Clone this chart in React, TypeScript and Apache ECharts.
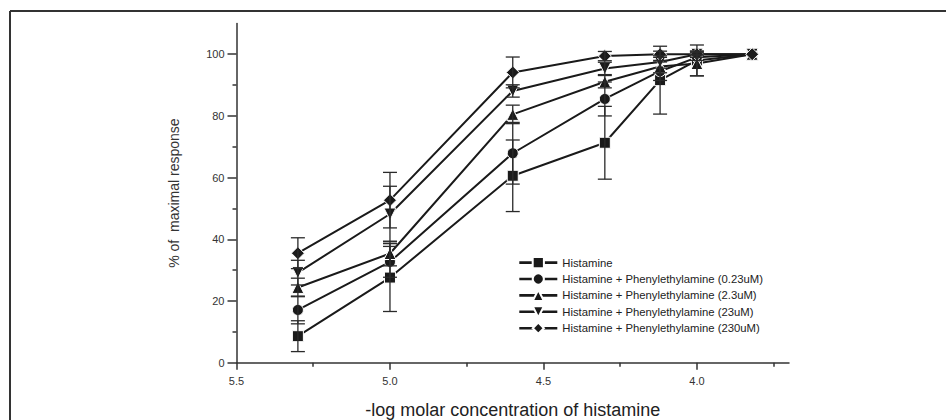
import React, { useEffect, useRef } from "react";
import * as echarts from "echarts";

// -log molar concentration of histamine (x positions)
const xValues = [5.3, 5.0, 4.6, 4.3, 4.12, 4.0, 3.82];

const seriesNames = [
  "Histamine",
  "Histamine + Phenylethylamine (0.23uM)",
  "Histamine + Phenylethylamine (2.3uM)",
  "Histamine + Phenylethylamine (23uM)",
  "Histamine + Phenylethylamine (230uM)",
];

const histamine = [8.6, 27.6, 60.6, 71.3, 91.6, 98.0, 100];
const histamineErr = [5, 11, 11.6, 11.8, 11, 5, 0];
const phe023 = [17.1, 32.7, 67.9, 85.5, 94.5, 99.0, 100];
const phe023Err = [4.5, 5, 10, 5.5, 3, 1, 0];
const phe23 = [24.4, 35.4, 80.5, 91.1, 96.0, 97.0, 100];
const phe23Err = [3, 4, 3, 2, 2, 4, 0];
const phe230 = [29.2, 48.2, 88.1, 95.4, 97.5, 100, 100];
const phe230Err = [4, 9, 2, 2, 2, 1, 0];
const phe2300 = [35.5, 52.7, 94.1, 99.4, 100, 100, 100];
const phe2300Err = [5, 9, 5, 1.5, 1, 0.5, 0];

const xMajorTicks = [5.5, 5.0, 4.5, 4.0];
const xMinorTicks = [5.25, 4.75, 4.25, 3.75];
const yMajorTicks = [0, 20, 40, 60, 80, 100];
const yMinorTicks = [10, 30, 50, 70, 90];

const symbols = ["rect", "circle", "triangle", "triangle", "diamond"];
const symbolRotates = [0, 0, 0, 180, 0];
const symbolSizes = [11, 11, 12, 12, 13];

const FONT = "'Liberation Sans', Arial, sans-serif";
const INK = "#1a1a1a";

export default function App() {
  const ref = useRef<HTMLDivElement>(null);

  useEffect(() => {
    if (!ref.current) return;
    const chart = echarts.init(ref.current, undefined, { renderer: "svg" });

    const values = [histamine, phe023, phe23, phe230, phe2300];
    const errs = [histamineErr, phe023Err, phe23Err, phe230Err, phe2300Err];

    const lineSeries: any[] = values.map((vals, i) => ({
      type: "line",
      name: seriesNames[i],
      xAxisIndex: 0,
      yAxisIndex: 0,
      data: xValues.map((x, j) => [x, vals[j]]),
      symbol: symbols[i],
      symbolRotate: symbolRotates[i],
      symbolSize: symbolSizes[i],
      showAllSymbol: true,
      lineStyle: { color: INK, width: 2 },
      itemStyle: { color: INK, borderColor: "#fff", borderWidth: 1 },
      z: 3,
    }));

    const errSeries: any[] = values.map((vals, i) => ({
      type: "custom",
      xAxisIndex: 0,
      yAxisIndex: 0,
      z: 4,
      encode: { x: 0, y: [1, 2] },
      data: xValues
        .map((x, j) => [x, vals[j] - errs[i][j], vals[j] + errs[i][j]])
        .filter((d) => d[2] - d[1] > 0),
      renderItem: (params: any, api: any) => {
        const x = api.value(0);
        const lo = api.coord([x, api.value(1)]);
        const hi = api.coord([x, api.value(2)]);
        const hw = 7;
        const style = { stroke: "#2a2a2a", lineWidth: 1.3 };
        return {
          type: "group",
          children: [
            { type: "line", shape: { x1: lo[0], y1: lo[1], x2: hi[0], y2: hi[1] }, style },
            { type: "line", shape: { x1: hi[0] - hw, y1: hi[1], x2: hi[0] + hw, y2: hi[1] }, style },
            { type: "line", shape: { x1: lo[0] - hw, y1: lo[1], x2: lo[0] + hw, y2: lo[1] }, style },
          ],
        };
      },
    }));

    const axisLineStyle = { color: "#333", width: 1.5 };

    chart.setOption({
      animation: false,
      backgroundColor: "#fff",
      grid: {
        left: 236.5,
        right: 157,
        top: 23.4,
        bottom: 57.3,
        containLabel: false,
        outerBoundsMode: "none",
      },
      legend: {
        data: seriesNames,
        orient: "vertical",
        left: 513,
        top: 251,
        itemWidth: 38,
        itemHeight: 14,
        itemGap: 3.2,
        lineStyle: { width: 2.6 },
        textStyle: { fontSize: 11.3, color: "#222", fontFamily: FONT },
      },
      xAxis: [
        {
          type: "value",
          inverse: true,
          min: 3.7,
          max: 5.5,
          name: "-log molar concentration of histamine",
          nameLocation: "middle",
          nameGap: 38,
          nameTextStyle: { fontSize: 18, color: "#222", fontFamily: FONT },
          axisLine: { show: true, lineStyle: axisLineStyle },
          axisTick: { show: true, length: 7, customValues: xMajorTicks, lineStyle: axisLineStyle },
          axisLabel: {
            customValues: xMajorTicks,
            margin: 13,
            fontSize: 11,
            color: "#333",
            fontFamily: FONT,
            formatter: (v: number) => v.toFixed(1),
          },
          splitLine: { show: false },
        },
        {
          type: "value",
          inverse: true,
          min: 3.7,
          max: 5.5,
          position: "bottom",
          axisLine: { show: false },
          axisTick: { show: true, length: 4, customValues: xMinorTicks, lineStyle: axisLineStyle },
          axisLabel: { show: false },
          splitLine: { show: false },
        },
      ],
      yAxis: [
        {
          type: "value",
          min: 0,
          max: 110,
          name: "% of  maximal response",
          nameLocation: "middle",
          nameGap: 56,
          nameTextStyle: { fontSize: 14, color: "#333", fontFamily: FONT },
          axisLine: { show: true, lineStyle: axisLineStyle },
          axisTick: { show: true, length: 9, customValues: yMajorTicks, lineStyle: axisLineStyle },
          axisLabel: {
            customValues: yMajorTicks,
            margin: 12,
            fontSize: 11,
            color: "#333",
            fontFamily: FONT,
          },
          splitLine: { show: false },
        },
        {
          type: "value",
          min: 0,
          max: 110,
          position: "left",
          axisLine: { show: false },
          axisTick: { show: true, length: 4, customValues: yMinorTicks, lineStyle: axisLineStyle },
          axisLabel: { show: false },
          splitLine: { show: false },
        },
      ],
      graphic: [
        { type: "line", shape: { x1: 10, y1: 11, x2: 946, y2: 11 }, style: { stroke: "#333", lineWidth: 2 } },
        { type: "line", shape: { x1: 10, y1: 11, x2: 10, y2: 420 }, style: { stroke: "#333", lineWidth: 2 } },
      ],
      series: [...lineSeries, ...errSeries],
    });

    return () => chart.dispose();
  }, []);

  return (
    <div
      ref={ref}
      style={{ position: "fixed", left: 0, top: 0, width: 946, height: 420, background: "#fff" }}
    />
  );
}
